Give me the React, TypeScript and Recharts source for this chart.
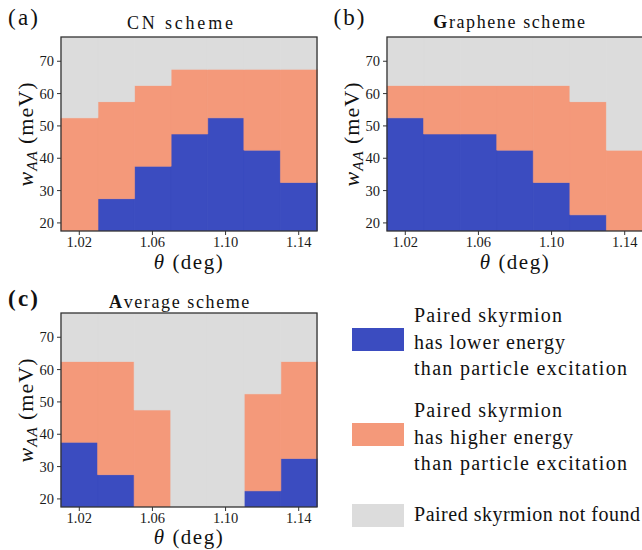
import React from "react";
import { BarChart, Bar, XAxis, YAxis } from "recharts";

// θ (deg) column centres
const thetas = [1.02, 1.04, 1.06, 1.08, 1.1, 1.12, 1.14];
// w_AA grid extent (meV), cell edges
const W_MIN = 17.5;
const W_MAX = 77.5;
const yTicks = [20, 30, 40, 50, 60, 70];

// upper edge (meV) of the "lower energy" region, and of the "found" region, per column
const cnLowerTop = [17.5, 27.5, 37.5, 47.5, 52.5, 42.5, 32.5];
const cnFoundTop = [52.5, 57.5, 62.5, 67.5, 67.5, 67.5, 67.5];

const grLowerTop = [52.5, 47.5, 47.5, 42.5, 32.5, 22.5, 17.5];
const grFoundTop = [62.5, 62.5, 62.5, 62.5, 62.5, 57.5, 42.5];

const avLowerTop = [37.5, 27.5, 17.5, 17.5, 17.5, 22.5, 32.5];
const avFoundTop = [62.5, 62.5, 47.5, 17.5, 17.5, 52.5, 62.5];

const BLUE = "#3b4cc0";
const ORANGE = "#f4997a";
const GREY = "#dcdcdc";
const SERIF = "Liberation Serif, Times New Roman, Times, serif";
const FS = { fontFamily: SERIF };

function Panel({ lowerTop, foundTop }: { lowerTop: number[]; foundTop: number[] }) {
  const data = thetas.map((t, i) => ({
    theta: t,
    lower: lowerTop[i],
    higher: foundTop[i] - lowerTop[i],
    none: W_MAX - foundTop[i],
  }));
  const tick = { fill: "#1a1a1a", fontSize: 14.5, fontFamily: SERIF, style: FS };
  return (
    <BarChart
      width={330}
      height={270}
      data={data}
      margin={{ top: 37, right: 13, bottom: 9, left: 21 }}
      barCategoryGap={0}
      barGap={0}
      style={FS}
    >
      <XAxis
        dataKey="theta"
        interval={1}
        tickFormatter={(v: any) => Number(v).toFixed(2)}
        axisLine={false}
        tickSize={4}
        tickMargin={2}
        tickLine={{ stroke: "#333" }}
        tick={tick}
        height={30}
      />
      <YAxis
        type="number"
        domain={[W_MIN, W_MAX]}
        ticks={yTicks}
        allowDataOverflow
        axisLine={false}
        tickSize={4}
        tickMargin={3}
        tickLine={{ stroke: "#333" }}
        tick={tick}
        width={40}
      />
      <Bar dataKey="lower" stackId="s" fill={BLUE} stroke={BLUE} strokeWidth={0.6} isAnimationActive={false} />
      <Bar dataKey="higher" stackId="s" fill={ORANGE} stroke={ORANGE} strokeWidth={0.6} isAnimationActive={false} />
      <Bar dataKey="none" stackId="s" fill={GREY} stroke={GREY} strokeWidth={0.6} isAnimationActive={false} />
    </BarChart>
  );
}

function YLabel({ x, y }: { x: number; y: number }) {
  return (
    <text transform={`translate(${x},${y}) rotate(-90)`} textAnchor="middle" fontSize={22} style={FS} fill="#111" letterSpacing={1}>
      <tspan fontStyle="italic">w</tspan>
      <tspan fontStyle="italic" fontSize={15} dy={4}>AA</tspan>
      <tspan dy={-4}> (meV)</tspan>
    </text>
  );
}

function XLabel({ x, y }: { x: number; y: number }) {
  return (
    <text x={x} y={y} textAnchor="middle" fontSize={21} style={FS} fill="#111" letterSpacing={1.5}>
      <tspan fontStyle="italic">θ</tspan> (deg)
    </text>
  );
}

function T({ x, y, size, w, anchor = "middle", bold = false, children }: any) {
  return (
    <text
      x={x}
      y={y}
      fontSize={size}
      style={FS}
      fill="#111"
      textAnchor={anchor}
      fontWeight={bold ? "bold" : "normal"}
      textLength={w}
      lengthAdjust="spacing"
    >
      {children}
    </text>
  );
}

const legendItems = [
  { color: BLUE, lines: ["Paired skyrmion", "has lower energy", "than particle excitation"], widths: [148, 151, 213], y: 322, ry: 328 },
  { color: ORANGE, lines: ["Paired skyrmion", "has higher energy", "than particle excitation"], widths: [148, 159, 213], y: 417, ry: 423 },
  { color: GREY, lines: ["Paired skyrmion not found"], widths: [226], y: 521, ry: 504 },
];

export default function App() {
  return (
    <div style={{ position: "absolute", left: 0, top: 0, width: 642, height: 550, overflow: "hidden", background: "#fff", fontFamily: SERIF }}>
      <div style={{ position: "absolute", left: 0, top: 0 }}>
        <Panel lowerTop={cnLowerTop} foundTop={cnFoundTop} />
      </div>
      <div style={{ position: "absolute", left: 326, top: 0 }}>
        <Panel lowerTop={grLowerTop} foundTop={grFoundTop} />
      </div>
      <div style={{ position: "absolute", left: 0, top: 276 }}>
        <Panel lowerTop={avLowerTop} foundTop={avFoundTop} />
      </div>
      <svg width={642} height={550} style={{ position: "absolute", left: 0, top: 0, pointerEvents: "none", fontFamily: SERIF }}>
        {/* frames */}
        <rect x={61} y={37} width={256} height={194} fill="none" stroke="#333" strokeWidth={1.3} />
        <rect x={387} y={37} width={256} height={194} fill="none" stroke="#333" strokeWidth={1.3} />
        <rect x={61} y={313} width={256} height={194} fill="none" stroke="#333" strokeWidth={1.3} />

        {/* panel letters */}
        <T x={23} y={25} size={23} w={30}>(a)</T>
        <T x={349} y={25} size={23} w={31}>(b)</T>
        <T x={23} y={306} size={23} w={30} bold>(c)</T>

        {/* titles */}
        <T x={180} y={29} size={18} w={106}>CN scheme</T>
        <text x={510} y={28} textAnchor="middle" fontSize={18} style={FS} fill="#111" letterSpacing={1.6}>
          <tspan fontWeight="bold">G</tspan>raphene scheme
        </text>
        <text x={180} y={308} textAnchor="middle" fontSize={18} style={FS} fill="#111" letterSpacing={1.6}>
          <tspan fontWeight="bold">A</tspan>verage scheme
        </text>

        {/* axis labels */}
        <YLabel x={33} y={134} />
        <YLabel x={359} y={134} />
        <YLabel x={33} y={410} />
        <XLabel x={189} y={269} />
        <XLabel x={515} y={269} />
        <XLabel x={189} y={544} />

        {/* legend */}
        {legendItems.map((it, k) => (
          <g key={k}>
            <rect x={352} y={it.ry} width={52} height={23} fill={it.color} />
            {it.lines.map((ln, j) => (
              <T key={j} x={414} y={it.y + j * 26.5} size={20} w={it.widths[j]} anchor="start">{ln}</T>
            ))}
          </g>
        ))}
      </svg>
    </div>
  );
}
